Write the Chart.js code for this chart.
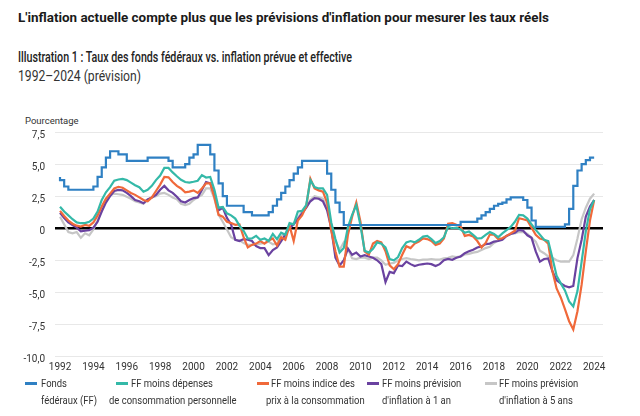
<!DOCTYPE html>
<html lang="fr">
<head>
<meta charset="utf-8">
<title>Taux des fonds fédéraux vs. inflation prévue et effective</title>
<script src="https://cdn.jsdelivr.net/npm/chart.js@4.4.1/dist/chart.umd.min.js"></script>
<style>
  html, body { margin: 0; padding: 0; background: #fff; }
  body { width: 640px; height: 416px; position: relative; overflow: hidden;
         font-family: Roboto, "Noto Sans", sans-serif; color: #1a1a1a; }
  .txt { position: absolute; white-space: nowrap; transform-origin: left center; }
  #title { left: 18px; top: 10px; font-size: 13px; font-weight: 700; line-height: 16px; }
  #sub { left: 18px; top: 50px; font-size: 14.5px; font-weight: 500; line-height: 16px; color: #222; }
  #period { left: 18px; top: 69px; font-size: 14.5px; line-height: 16px; color: #333; }
  #unit { left: 25px; top: 115px; font-size: 9.5px; line-height: 12px; color: #333; }
  #chartBox { position: absolute; left: 0; top: 110px; }
  .leg-mark { position: absolute; height: 3px; width: 12px; top: 382px; }
  .leg-line { position: absolute; white-space: nowrap; font-size: 11px; line-height: 13px; color: #333;
              transform: scaleX(0.86); transform-origin: left center; }
</style>
</head>
<body>
<div id="title" class="txt">L'inflation actuelle compte plus que les prévisions d'inflation pour mesurer les taux réels</div>
<div id="sub" class="txt">Illustration 1 : Taux des fonds fédéraux vs. inflation prévue et effective</div>
<div id="period" class="txt">1992–2024 (prévision)</div>
<div id="unit" class="txt">Pourcentage</div>
<div id="chartBox"><canvas id="chart" width="640" height="280"></canvas></div>
<div id="legend"></div>

<script>
// quarterly values, first point = 1992 Q1, last point = 2024
const startYear = 1992;
const pointsPerYear = 4;

const fedFunds = [
  4.0, 3.75, 3.25, 3.0,   3.0, 3.0, 3.0, 3.0,   3.0, 3.25, 4.0, 4.75,   5.5, 6.0, 6.0, 5.75,
  5.75, 5.25, 5.25, 5.25,   5.25, 5.25, 5.5, 5.5,   5.5, 5.5, 5.5, 5.25,   4.75, 4.75, 4.75, 5.0,
  5.5, 5.75, 6.5, 6.5,   6.5, 5.75, 4.5, 3.5,   2.5, 1.75, 1.75, 1.75,   1.75, 1.25, 1.25, 1.0,
  1.0, 1.0, 1.0, 1.25,   1.75, 2.25, 2.75, 3.25,   3.75, 4.25, 4.75, 5.25,   5.25, 5.25, 5.25, 5.25,
  5.25, 4.25, 3.0, 2.0,   1.25, 0.25, 0.25, 0.25,   0.25, 0.25, 0.25, 0.25,   0.25, 0.25, 0.25, 0.25,
  0.25, 0.25, 0.25, 0.25,   0.25, 0.25, 0.25, 0.25,   0.25, 0.25, 0.25, 0.25,   0.25, 0.25, 0.25, 0.25,
  0.25, 0.5, 0.5, 0.5,   0.5, 0.75, 1.0, 1.25,   1.5, 1.75, 1.9, 2.0,   2.25, 2.4, 2.4, 2.4,
  2.2, 1.6, 0.6, 0.1,   0.1, 0.1, 0.1, 0.1,   0.1, 0.1, 0.3, 1.5,   3.3, 4.5, 5.0, 5.3,
  5.5
];

const ffMinusPce = [
  1.68, 1.3, 1.0, 0.7,   0.45, 0.39, 0.4, 0.5,   0.75, 1.3, 2.2, 2.8,   3.2, 3.7, 3.8, 3.85,
  3.75, 3.55, 3.35, 3.2,   2.85, 3.0, 3.3, 3.75,   4.1, 4.7, 4.7, 4.35,   4.05, 3.78, 3.6, 3.55,
  3.62, 3.7, 4.14, 3.95,   4.0, 3.0, 1.6, 1.65,   1.16, 1.0, 0.75, 0.2,   -0.2, -0.8, -0.8, -0.6,
  -0.9, -0.8, -1.0, -0.45,   -0.85, -0.35, -0.5, 0.4,   0.3, 1.3, 1.35, 1.8,   3.75, 3.2, 3.1, 3.1,
  2.6, 0.45, -0.85, -1.9,   -1.55, 0.1, 1.04, 1.8,   0.2, -1.75, -1.9, -1.6,   -1.1, -1.2, -1.5, -2.4,
  -2.5, -2.25, -1.55, -1.1,   -1.0, -1.1, -0.9, -0.65,   -0.6, -0.85, -1.16, -1.0,   -0.7, 0.1, 0.0, 0.05,
  -0.1, -0.35, -0.26, -0.52,   -0.8, -0.78, -0.52, -0.3,   -0.45, -0.7, -0.4, -0.15,   0.1, 0.5, 1.04, 1.0,
  0.75, 0.3, -0.13, -0.5,   -0.9, -1.0, -2.33, -3.7,   -4.3, -4.85, -5.7, -6.1,   -4.9, -2.6, -0.25, 1.5,
  2.2
];

const ffMinusCpi = [
  1.35, 0.95, 0.6, 0.35,   0.2, 0.13, 0.25, 0.18,   0.45, 1.0, 1.7, 2.3,   2.7, 3.1, 3.23, 3.15,
  2.95, 2.75, 2.6, 2.4,   2.2, 2.1, 2.4, 2.9,   3.4, 4.0, 3.97, 3.6,   3.3, 3.1, 2.8, 2.85,
  2.95, 2.75, 3.1, 3.5,   3.5, 2.4, 1.04, 0.9,   0.5, 0.4, 0.26, 0.3,   -0.7, -1.5, -1.3, -1.2,
  -1.0, -1.2, -0.95, -0.8,   -1.35, -0.7, -0.9, 0.2,   -1.0, 0.6, 1.0, 1.7,   3.85, 3.1, 2.95, 2.85,
  2.0, -0.2, -1.8, -3.0,   -3.0, -0.5, 0.9, 2.0,   0.5, -1.8, -2.07, -1.2,   -1.0, -1.1, -1.8, -2.9,
  -3.2, -2.8, -2.07, -1.4,   -1.55, -1.2, -1.04, -0.8,   -0.85, -1.0, -1.3, -1.2,   -0.8, 0.35, 0.39, 0.26,
  0.15, -0.6, -0.52, -0.65,   -1.0, -1.5, -1.15, -0.5,   -0.5, -0.85, -0.78, -0.6,   -0.4, -0.2, 0.78, 0.7,
  0.6, 0.05, -0.52, -0.8,   -0.9, -1.2, -3.36, -4.7,   -5.4, -6.3, -7.25, -7.9,   -6.47, -4.4, -1.8, 0.6,
  2.2
];

const ffMinusExp1y = [
  1.2, 0.8, 0.45, 0.25,   0.05, -0.25, -0.2, -0.15,   0.05, 0.5, 1.3, 2.0,   2.5, 2.9, 2.98, 2.95,
  2.75, 2.5, 2.2, 2.1,   1.95, 2.25, 2.4, 2.6,   3.0, 3.3, 2.95, 2.75,   2.45, 2.1, 2.0, 2.2,
  2.35, 2.4, 2.98, 3.6,   3.5, 2.6, 1.4, 1.6,   0.8, 0.3, -0.9, -1.0,   -0.85, -0.9, -1.0, -1.4,
  -1.55, -1.55, -2.1, -1.7,   -1.5, -1.0, -0.5, 0.0,   0.3, 0.7, 1.16, 1.6,   2.1, 2.35, 2.3, 2.1,
  1.4, 0.0, -2.3, -2.9,   -2.5, -1.6, -2.07, -1.9,   -2.2, -2.1, -2.2, -2.3,   -2.5, -2.8, -4.2, -3.4,
  -3.5, -2.9, -2.95, -2.6,   -2.8, -2.95, -2.85, -2.8,   -2.75, -2.8, -2.95, -2.8,   -2.5, -2.4, -2.46, -2.3,
  -2.2, -1.95, -1.8, -1.68,   -1.5, -1.42, -1.24, -1.2,   -1.04, -1.0, -0.9, -0.6,   -0.45, -0.35, -0.13, -0.2,
  -0.55, -0.75, -1.81, -2.6,   -2.4, -2.35, -3.36, -4.05,   -4.3, -4.5, -4.6, -4.5,   -2.33, -0.9, 0.9, 1.7,
  2.2
];

const ffMinusExp5y = [
  0.9, 0.3, -0.3, -0.4,   -0.3, -0.75, -0.4, -0.55,   -0.1, 0.6, 1.4, 2.2,   2.55, 2.7, 2.65, 2.6,
  2.45, 2.3, 2.1, 2.0,   1.9, 2.2, 2.4, 2.5,   2.7, 2.75, 2.6, 2.4,   2.25, 1.9, 1.8, 1.9,
  2.2, 2.4, 2.6, 3.1,   3.1, 2.3, 1.04, 0.5,   -0.1, -0.7, -0.9, -0.95,   -1.16, -1.3, -1.3, -1.3,
  -1.2, -1.15, -1.05, -1.25,   -1.2, -0.6, -0.4, 0.0,   0.4, 0.8, 1.3, 1.6,   2.2, 2.5, 2.4, 2.3,
  1.6, 0.3, -1.0, -1.7,   -1.1, -1.6, -2.35, -2.4,   -2.3, -2.3, -2.4, -2.3,   -2.3, -2.5, -2.85, -2.75,
  -2.7, -2.5, -2.4, -2.33,   -2.4, -2.45, -2.5, -2.45,   -2.45, -2.4, -2.45, -2.45,   -2.35, -2.3, -2.2, -2.25,
  -2.2, -2.05, -2.0, -1.9,   -1.85, -1.7, -1.55, -1.45,   -1.15, -0.95, -0.78, -0.6,   -0.45, -0.4, -0.3, -0.3,
  -0.45, -0.75, -1.04, -1.75,   -1.95, -2.2, -2.3, -2.5,   -2.6, -2.59, -2.6, -2.1,   -0.8, 0.7, 1.6, 2.3,
  2.7
];

const seriesNames = [
  ['Fonds', 'fédéraux (FF)'],
  ['FF moins dépenses', 'de consommation personnelle'],
  ['FF moins indice des', 'prix à la consommation'],
  ['FF moins prévision', "d'inflation à 1 an"],
  ['FF moins prévision', "d'inflation à 5 ans"]
];
const seriesColors = ['#2f80c3', '#34b9a8', '#f0693a', '#6a42a0', '#c6c6c6'];

const xTickYears = [1992, 1994, 1996, 1998, 2000, 2002, 2004, 2006, 2008, 2010, 2012, 2014, 2016, 2018, 2020, 2022, 2024];
const yTickValues = [7.5, 5, 2.5, 0, -2.5, -5, -7.5, -10];

const tickFont = { family: 'Roboto, sans-serif', size: 10 };

function toPoints(values) {
    return values.map((v, i) => ({ x: startYear + i / pointsPerYear, y: v }));
}

const allSeries = [fedFunds, ffMinusPce, ffMinusCpi, ffMinusExp1y, ffMinusExp5y];

const datasets = allSeries.map((values, i) => ({
    label: seriesNames[i].join(' '),
    data: toPoints(values),
    borderColor: seriesColors[i],
    backgroundColor: seriesColors[i],
    borderWidth: 2.2,
    pointRadius: 0,
    fill: false,
    stepped: i === 0 ? 'after' : false
}));

const ctx = document.getElementById('chart').getContext('2d');

new Chart(ctx, {
    type: 'line',
    data: { datasets: datasets },
    options: {
        responsive: false,
        animation: false,
        events: [],
        layout: { padding: { top: 22, right: 37, left: 0, bottom: 0 } },
        plugins: {
            legend: { display: false },
            tooltip: { enabled: false }
        },
        scales: {
            x: {
                type: 'linear',
                min: 1991.7,
                max: 2024.53,
                afterBuildTicks: axis => { axis.ticks = xTickYears.map(y => ({ value: y })); },
                afterFit: axis => { axis.height = 33.5; },
                grid: { display: false, drawTicks: false },
                border: { display: false },
                ticks: {
                    autoSkip: false,
                    maxRotation: 0,
                    padding: 5,
                    color: '#333',
                    font: tickFont,
                    callback: value => String(value)
                }
            },
            y: {
                min: -10,
                max: 7.5,
                afterBuildTicks: axis => { axis.ticks = yTickValues.map(v => ({ value: v })); },
                afterFit: axis => { axis.width = 55; },
                border: { display: false },
                grid: {
                    drawTicks: false,
                    color: c => (c.tick && c.tick.value === 0) ? '#000' : '#e8e8e8',
                    lineWidth: c => (c.tick && c.tick.value === 0) ? 2.5 : 1
                },
                ticks: {
                    padding: 10,
                    labelOffset: 3,
                    color: '#333',
                    font: tickFont,
                    callback: value => value === 0 ? '0' : value.toFixed(1).replace('.', ',')
                }
            }
        }
    }
});

// legend (two lines per entry)
const legendLayout = [
    { mark: 25, first: 41, second: 41 },
    { mark: 116, first: 131, second: 109 },
    { mark: 257, first: 271, second: 266 },
    { mark: 367, first: 382, second: 382 },
    { mark: 485, first: 499, second: 499 }
];
const legend = document.getElementById('legend');
seriesNames.forEach((lines, i) => {
    const pos = legendLayout[i];
    const mark = document.createElement('div');
    mark.className = 'leg-mark';
    mark.style.left = pos.mark + 'px';
    mark.style.background = seriesColors[i];
    legend.appendChild(mark);

    lines.forEach((text, j) => {
        const span = document.createElement('div');
        span.className = 'leg-line';
        span.textContent = text;
        span.style.left = (j === 0 ? pos.first : pos.second) + 'px';
        span.style.top = (377 + j * 17) + 'px';
        legend.appendChild(span);
    });
});

// squeeze heading lines to the width they take in the original
function fitWidth(id, target) {
    const el = document.getElementById(id);
    const w = el.getBoundingClientRect().width;
    if (w > 0) el.style.transform = 'scaleX(' + (target / w) + ')';
}
fitWidth('title', 531);
fitWidth('sub', 334);
fitWidth('period', 123);
</script>
</body>
</html>
